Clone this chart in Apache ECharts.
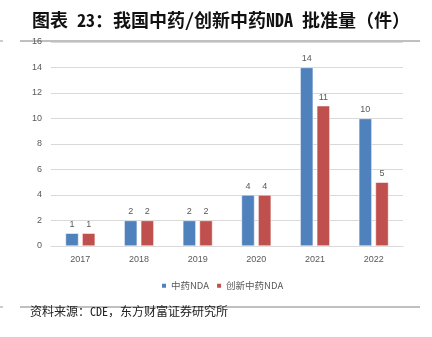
<!DOCTYPE html>
<html>
<head>
<meta charset="utf-8">
<script src="https://cdn.jsdelivr.net/npm/echarts@6/dist/echarts.min.js"></script>
<style>
  html, body { margin: 0; padding: 0; background: #fff; }
  #chart { width: 432px; height: 337px; }
</style>
</head>
<body>
<div id="chart"></div>
<script>
// Approved NDA counts per year
const years = ['2017', '2018', '2019', '2020', '2021', '2022'];
const tcmNda = [1, 2, 2, 4, 14, 10];
const innovativeTcmNda = [1, 2, 2, 4, 11, 5];
const seriesNames = ['中药NDA', '创新中药NDA'];

const chart = echarts.init(document.getElementById('chart'));
const labelStyle = { show: true, position: 'top', color: '#595959', fontSize: 9, distance: 4, fontFamily: 'Liberation Sans' };
const monoCjk = '"Noto Sans Mono CJK SC", "Noto Sans CJK SC", monospace';

chart.setOption({
  animation: false,
  title: {
    text: '图表 23：我国中药/创新中药NDA 批准量（件）',
    left: 27, top: 6,
    textStyle: { fontFamily: monoCjk, fontWeight: 'bold', fontSize: 18, color: '#111' }
  },
  graphic: [
    // header and footer rules, with the small page-edge marks beside them
    { type: 'line', shape: { x1: 20, y1: 41, x2: 420, y2: 41 }, style: { stroke: '#808080', lineWidth: 1 } },
    { type: 'line', shape: { x1: 20, y1: 307, x2: 420, y2: 307 }, style: { stroke: '#808080', lineWidth: 1 } },
    { type: 'line', shape: { x1: 0, y1: 41, x2: 3, y2: 41 }, style: { stroke: '#999', lineWidth: 1 } },
    { type: 'line', shape: { x1: 0, y1: 307, x2: 3, y2: 307 }, style: { stroke: '#999', lineWidth: 1 } },
    { type: 'text', left: 30, top: 305, style: { text: '资料来源：CDE，东方财富证券研究所', font: '12px ' + monoCjk, fill: '#222' } }
  ],
  legend: {
    data: seriesNames,
    top: 276, left: 155,
    itemWidth: 6, itemHeight: 6, itemGap: 6,
    icon: 'rect',
    textStyle: { color: '#595959', fontSize: 9.5, fontFamily: 'Noto Sans CJK SC', padding: [0, 0, 0, -1] }
  },
  grid: { left: 51, right: 29, top: 42, bottom: 91 },
  xAxis: {
    type: 'category',
    data: years,
    axisLine: { lineStyle: { color: '#d9d9d9' } },
    axisTick: { show: false },
    axisLabel: { color: '#595959', fontSize: 9, margin: 9, fontFamily: 'Liberation Sans' }
  },
  yAxis: {
    type: 'value',
    min: 0, max: 16, interval: 2,
    axisLine: { show: false },
    axisTick: { show: false },
    splitLine: { lineStyle: { color: '#d9d9d9' } },
    axisLabel: { color: '#595959', fontSize: 9, margin: 9, fontFamily: 'Liberation Sans' }
  },
  series: [
    {
      name: seriesNames[0], type: 'bar', data: tcmNda,
      barWidth: 13, barGap: '28%',
      itemStyle: { color: '#4F81BD', borderColor: '#ffffff', borderWidth: 0.5 },
      label: labelStyle
    },
    {
      name: seriesNames[1], type: 'bar', data: innovativeTcmNda,
      barWidth: 13,
      itemStyle: { color: '#C0504D', borderColor: '#ffffff', borderWidth: 0.5 },
      label: labelStyle
    }
  ]
});
</script>
</body>
</html>
